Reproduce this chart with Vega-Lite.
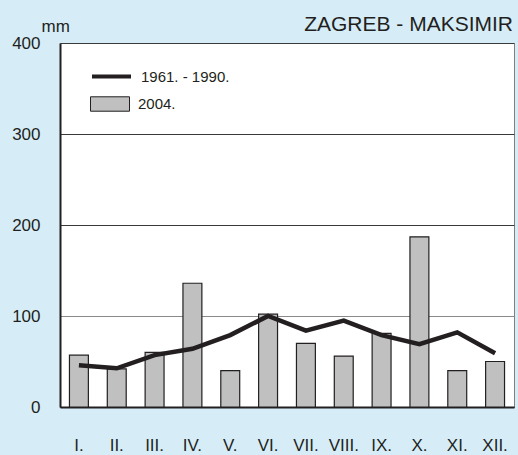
{
  "$schema": "https://vega.github.io/schema/vega-lite/v6.json",
  "autosize": {"type": "none"},
  "padding": {"left": 60, "top": 43, "right": 4, "bottom": 48},
  "width": 454,
  "height": 364,
  "background": "#d6edf8",
  "config": {
    "font": "Liberation Sans",
    "view": {"fill": "#ffffff", "stroke": "#808080", "strokeWidth": 1}
  },
  "title": {
    "text": "ZAGREB - MAKSIMIR",
    "anchor": "end",
    "frame": "group",
    "fontSize": 21,
    "font": "Liberation Sans",
    "fontWeight": "normal",
    "color": "#231f20",
    "baseline": "alphabetic",
    "offset": -15,
    "dx": -1,
    "dy": 20
  },
  "data": {
    "values": [
      {"month": "I.", "y2004": 57, "normal": 46},
      {"month": "II.", "y2004": 42, "normal": 42.5},
      {"month": "III.", "y2004": 60, "normal": 57},
      {"month": "IV.", "y2004": 136, "normal": 64},
      {"month": "V.", "y2004": 40, "normal": 79},
      {"month": "VI.", "y2004": 102, "normal": 100},
      {"month": "VII.", "y2004": 70, "normal": 84},
      {"month": "VIII.", "y2004": 56, "normal": 95},
      {"month": "IX.", "y2004": 81, "normal": 79},
      {"month": "X.", "y2004": 187, "normal": 69},
      {"month": "XI.", "y2004": 40, "normal": 82},
      {"month": "XII.", "y2004": 50, "normal": 59}
    ]
  },
  "encoding": {
    "x": {
      "field": "month",
      "type": "ordinal",
      "sort": null,
      "scale": {"paddingInner": 0.5, "paddingOuter": 0.25},
      "axis": {
        "title": null,
        "labelAngle": 0,
        "ticks": false,
        "tickSize": 0,
        "labelPadding": 30,
        "labelFontSize": 17,
        "labelFontWeight": "normal",
        "labelColor": "#231f20",
        "domainColor": "#231f20",
        "domainWidth": 2,
        "grid": false
      }
    }
  },
  "layer": [
    {
      "mark": {"type": "bar", "stroke": "#231f20", "strokeWidth": 1.2},
      "encoding": {
        "y": {
          "field": "y2004",
          "type": "quantitative",
          "scale": {"domain": [0, 400], "nice": false},
          "axis": {
            "values": [0, 100, 200, 300, 400],
            "title": "mm",
            "titleAngle": 0,
            "titleAlign": "left",
            "titleBaseline": "alphabetic",
            "titleX": -19,
            "titleY": -12,
            "titleFontSize": 17,
            "titleFontWeight": "normal",
            "titleColor": "#231f20",
            "ticks": false,
            "tickSize": 0,
            "labelPadding": 20,
            "labelFontSize": 17,
            "labelFontWeight": "normal",
            "labelColor": "#231f20",
            "domainColor": "#231f20",
            "domainWidth": 2,
            "grid": true,
            "gridColor": {"condition": {"test": "datum.value === 100", "value": "#8a8a8a"}, "value": "#3a3a3a"},
            "gridWidth": 1.2
          }
        },
        "fill": {
          "datum": "2004.",
          "scale": {"range": ["#c0c0c0"]},
          "legend": {
            "title": null,
            "orient": "none",
            "legendX": 30,
            "legendY": 41,
            "padding": 0,
            "symbolType": "M-1,-0.37L1,-0.37L1,0.37L-1,0.37Z",
            "symbolSize": 1521,
            "symbolStrokeColor": "#231f20",
            "symbolStrokeWidth": 1,
            "symbolOpacity": 1,
            "labelFontSize": 15,
            "labelColor": "#231f20",
            "labelOffset": 8
          }
        }
      }
    },
    {
      "mark": {"type": "line", "strokeWidth": 4.5, "strokeJoin": "miter"},
      "encoding": {
        "y": {"field": "normal", "type": "quantitative"},
        "stroke": {
          "datum": "1961. - 1990.",
          "scale": {"range": ["#231f20"]},
          "legend": {
            "title": null,
            "orient": "none",
            "legendX": 30,
            "legendY": 12,
            "padding": 0,
            "symbolType": "stroke",
            "symbolSize": 1521,
            "symbolStrokeWidth": 4,
            "labelFontSize": 15,
            "labelColor": "#231f20",
            "labelOffset": 8
          }
        }
      }
    }
  ]
}
